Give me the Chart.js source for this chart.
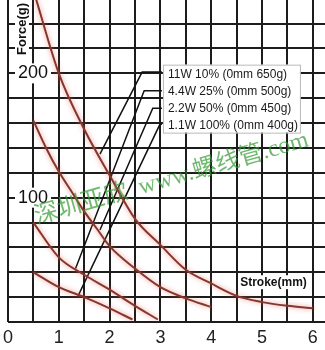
<!DOCTYPE html>
<html>
<head>
<meta charset="utf-8">
<script src="https://cdn.jsdelivr.net/npm/chart.js@4.4.1/dist/chart.umd.min.js"></script>
<style>
  html, body { margin: 0; padding: 0; background: #fff; }
  canvas { display: block; }
</style>
</head>
<body>
<canvas id="chart" width="325" height="350"></canvas>
<script>
// force (g) against stroke (mm)
const strokeLabels = [0, 1, 2, 3, 4, 5, 6];
const forceLabels = [100, 200];

const strokeA = [0.55, 1, 1.5, 2, 2.5, 3, 3.5, 4, 4.5, 5, 5.5, 6];
const forceA  = [260, 200, 155, 118, 83, 62, 42, 31, 21, 16, 13, 11];
const strokeB = [0.5, 0.75, 1, 1.25, 1.5, 1.75, 2, 2.5, 3, 3.5, 4];
const forceB  = [162, 140, 121, 105, 89, 75, 61, 43, 28, 19, 12];
const strokeC = [0.5, 1, 1.5, 2, 2.5, 2.95];
const forceC  = [80, 52, 38, 26, 13, 2];
const strokeD = [0.5, 1, 1.5, 2, 2.45];
const forceD  = [40, 28, 20, 11, 2];

const legendLabels = ['11W 10% (0mm 650g)', '4.4W 25% (0mm 500g)', '2.2W 50% (0mm 450g)', '1.1W 100% (0mm 400g)'];

// pointer lines from each legend row down to a curve
const leaderStroke = [[3.03, 2.64, 1.81], [3.03, 2.68, 1.33], [3.03, 2.85, 1.81], [3.03, 2.99, 1.38]];
const leaderForce  = [[201, 201, 135], [186, 186, 43], [172, 172, 74], [159, 159, 21]];

const pts = (xs, ys) => xs.map((x, i) => ({ x: x, y: ys[i] }));

const curve = (xs, ys) => ({
  data: pts(xs, ys),
  showLine: true,
  borderColor: '#85372d',
  borderWidth: 2,
  pointRadius: 0,
  cubicInterpolationMode: 'monotone',
  glow: true
});

const leader = (i) => ({
  data: pts(leaderStroke[i], leaderForce[i]),
  showLine: true,
  borderColor: '#111',
  borderWidth: 1.5,
  pointRadius: 0,
  tension: 0
});

const SANS = '"Liberation Sans", Arial, sans-serif';

function boxedText(ctx, text, x, y, pad) {
  const w = ctx.measureText(text).width;
  ctx.fillStyle = '#fff';
  ctx.fillRect(x - pad, y - 10, w + pad * 2, 20);
  ctx.fillStyle = '#111';
  ctx.fillText(text, x, y);
}

const glow = {
  id: 'glow',
  beforeDatasetDraw(chart, args) {
    if (!chart.data.datasets[args.index].glow) return;
    const ctx = chart.ctx;
    ctx.save();
    ctx.shadowColor = 'rgba(230, 100, 90, 0.75)';
    ctx.shadowBlur = 5;
  },
  afterDatasetDraw(chart, args) {
    if (chart.data.datasets[args.index].glow) chart.ctx.restore();
  }
};

const axisText = {
  id: 'axisText',
  beforeDatasetsDraw(chart) {
    const ctx = chart.ctx;
    const xs = chart.scales.x, ys = chart.scales.y;
    const x0 = xs.getPixelForValue(0);
    ctx.save();
    ctx.textBaseline = 'middle';
    ctx.textAlign = 'left';

    ctx.font = '18px ' + SANS;
    forceLabels.forEach(v => boxedText(ctx, String(v), x0 + 10, ys.getPixelForValue(v), 3));

    // Force(g) title, vertical
    ctx.save();
    ctx.translate(x0 + 14, 29);
    ctx.rotate(-Math.PI / 2);
    ctx.font = 'bold 13px ' + SANS;
    ctx.textAlign = 'center';
    const fw = ctx.measureText('Force(g)').width;
    ctx.fillStyle = '#fff';
    ctx.fillRect(-fw / 2 - 3, -7, fw + 6, 14);
    ctx.fillStyle = '#111';
    ctx.fillText('Force(g)', 0, 0);
    ctx.restore();

    // Stroke(mm) title
    ctx.font = 'bold 12px ' + SANS;
    ctx.textAlign = 'left';
    const sx = xs.getPixelForValue(4.57), sy = ys.getPixelForValue(32);
    const sw = ctx.measureText('Stroke(mm)').width;
    ctx.fillStyle = '#fff';
    ctx.fillRect(sx - 2, sy - 7, sw + 4, 14);
    ctx.fillStyle = '#111';
    ctx.fillText('Stroke(mm)', sx, sy);
    ctx.restore();
  }
};

const legendBox = {
  id: 'legendBox',
  afterDatasetsDraw(chart) {
    const ctx = chart.ctx;
    const left = chart.scales.x.getPixelForValue(3.05);
    const top = chart.scales.y.getPixelForValue(207);
    ctx.save();
    ctx.fillStyle = '#fff';
    ctx.fillRect(left, top, 137, 68);
    ctx.strokeStyle = '#bbb';
    ctx.lineWidth = 1;
    ctx.strokeRect(left + 0.5, top + 0.5, 137, 68);
    ctx.font = '12px ' + SANS;
    ctx.fillStyle = '#1a1a1a';
    ctx.textBaseline = 'middle';
    legendLabels.forEach((t, i) => ctx.fillText(t, left + 5, top + 10 + i * 17));
    ctx.restore();
  }
};

const watermark = {
  id: 'watermark',
  afterDraw(chart) {
    const ctx = chart.ctx;
    ctx.save();
    ctx.translate(37, 224);
    ctx.rotate(-16 * Math.PI / 180);
    ctx.font = '24px "Liberation Serif", "Noto Sans CJK SC", serif';
    ctx.fillStyle = 'rgba(50, 155, 50, 0.7)';
    ctx.textBaseline = 'alphabetic';
    ctx.fillText('深圳亚欣  www.螺线管.com', 0, 0);
    ctx.restore();
  }
};

const whiteBg = {
  id: 'whiteBg',
  beforeDraw(chart) {
    const ctx = chart.ctx;
    ctx.save();
    ctx.fillStyle = '#fff';
    ctx.fillRect(0, 0, chart.width, chart.height);
    ctx.restore();
  }
};

new Chart(document.getElementById('chart'), {
  type: 'scatter',
  data: {
    datasets: [
      curve(strokeA, forceA),
      curve(strokeB, forceB),
      curve(strokeC, forceC),
      curve(strokeD, forceD),
      leader(0), leader(1), leader(2), leader(3)
    ]
  },
  options: {
    responsive: false,
    animation: false,
    devicePixelRatio: 1,
    layout: { padding: { left: 8, right: 0, top: 0, bottom: 0 } },
    plugins: {
      legend: { display: false },
      tooltip: { enabled: false }
    },
    scales: {
      x: {
        type: 'linear',
        min: 0,
        max: 6.24,
        border: { display: false },
        grid: { color: '#1c1c1c', lineWidth: 2, drawTicks: false },
        ticks: {
          stepSize: 0.5,
          includeBounds: false,
          autoSkip: false,
          maxRotation: 0,
          padding: 5,
          color: '#222',
          font: { size: 18, family: SANS },
          callback: v => strokeLabels.includes(v) ? String(v) : ''
        },
        afterFit: (scale) => {
          scale.height = 28;
          scale.paddingLeft = 0;
          scale.paddingRight = 0;
        }
      },
      y: {
        min: 0,
        max: 259,
        border: { display: false },
        grid: { color: '#1c1c1c', lineWidth: 2, drawTicks: false },
        ticks: { stepSize: 20, includeBounds: false, display: false }
      }
    }
  },
  plugins: [whiteBg, glow, axisText, legendBox, watermark]
});
</script>
</body>
</html>
